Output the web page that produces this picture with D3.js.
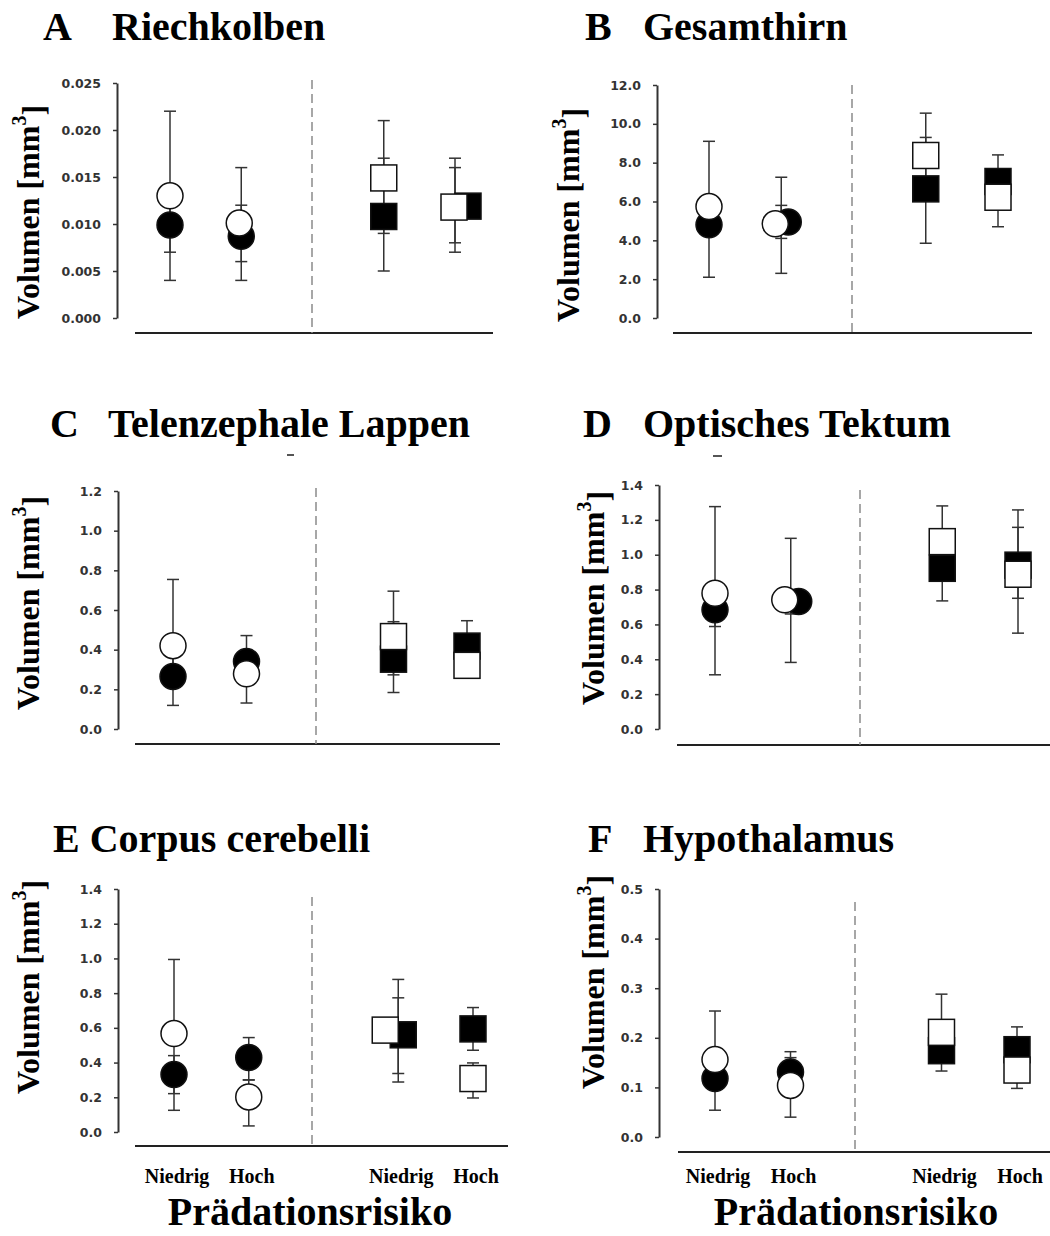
<!DOCTYPE html>
<html>
<head>
<meta charset="utf-8">
<script src="https://cdn.jsdelivr.net/npm/d3@7"></script>
<style>
  body { margin: 0; background: #fff; }
  svg text { font-family: "Liberation Serif", "Times New Roman", serif; font-weight: bold; }
  .tick text { font-family: "DejaVu Sans", Verdana, sans-serif; font-weight: bold; }
</style>
</head>
<body>
<div id="chart"></div>
<script>
//### DATA ####
const panelLetters = ["A", "B", "C", "D", "E", "F"];
const panelTitles = ["Riechkolben", "Gesamthirn", "Telenzephale Lappen", "Optisches Tektum", "Corpus cerebelli", "Hypothalamus"];
const groupLabels = ["Niedrig", "Hoch", "Niedrig", "Hoch"];
const axisTitle = "Prädationsrisiko";

// y axis per panel
const yMax = [0.025, 12, 1.2, 1.4, 1.4, 0.5];
const yStep = [0.005, 2, 0.2, 0.2, 0.2, 0.1];
const yDecimals = [3, 1, 1, 1, 1, 1];

// groups: [Niedrig circle, Hoch circle, Niedrig square, Hoch square]
const openMean = [
  [0.013, 0.0101, 0.0149, 0.0118],
  [5.74, 4.85, 8.37, 6.22],
  [0.42, 0.278, 0.466, 0.321],
  [0.779, 0.741, 1.075, 0.888],
  [0.567, 0.202, 0.587, 0.308],
  [0.156, 0.104, 0.211, 0.135]
];
const openLow = [
  [0.004, 0.004, 0.009, 0.007],
  [2.1, 2.3, 6.2, 4.7],
  [0.30, 0.131, 0.273, 0.256],
  [0.311, 0.382, 0.95, 0.75],
  [0.125, 0.035, 0.337, 0.196],
  [0.10, 0.040, 0.17, 0.098]
];
const openHigh = [
  [0.022, 0.016, 0.021, 0.017],
  [9.1, 7.25, 10.55, 7.5],
  [0.754, 0.40, 0.695, 0.39],
  [1.276, 1.094, 1.28, 1.157],
  [0.994, 0.30, 0.773, 0.398],
  [0.254, 0.16, 0.288, 0.17]
];
const filledMean = [
  [0.0099, 0.0087, 0.0108, 0.0119],
  [4.8, 4.94, 6.65, 7.03],
  [0.265, 0.34, 0.352, 0.418],
  [0.684, 0.731, 0.922, 0.94],
  [0.331, 0.429, 0.56, 0.594],
  [0.118, 0.131, 0.174, 0.176]
];
const filledLow = [
  [0.007, 0.006, 0.005, 0.008],
  [4.3, 4.1, 3.85, 5.8],
  [0.119, 0.25, 0.184, 0.36],
  [0.588, 0.66, 0.735, 0.55],
  [0.221, 0.30, 0.288, 0.471],
  [0.054, 0.10, 0.133, 0.15]
];
const filledHigh = [
  [0.013, 0.012, 0.017, 0.016],
  [5.3, 5.8, 9.3, 8.4],
  [0.41, 0.471, 0.541, 0.546],
  [0.78, 0.80, 1.1, 1.257],
  [0.44, 0.544, 0.879, 0.717],
  [0.16, 0.172, 0.21, 0.222]
];

//### LAYOUT ####
// slots: two circle groups, the divider, two square groups
const slots = ["n1", "h1", "mid", "n2", "h2"];
const groupSlot = ["n1", "h1", "n2", "h2"];

const layout = [
  { axisX: 117, yTop: 83, yBot: 318, baseY: 333, base0: 135, base1: 493, dashX: 312, dashTop: 80, x0: 170, x4: 455,
    letterX: 43, titleX: 112, titleY: 40, labelX: 28, labelY: 212,
    nudgeOpen: [0, -2, 0, -1], nudgeFilled: [0, 0, 0, 13] },
  { axisX: 657, yTop: 85, yBot: 318, baseY: 333, base0: 673, base1: 1032, dashX: 852, dashTop: 85, x0: 709, x4: 998,
    letterX: 585, titleX: 643, titleY: 40, labelX: 568, labelY: 215,
    nudgeOpen: [0, -6, 0, 0], nudgeFilled: [0, 7, 0, 0] },
  { axisX: 118, yTop: 491, yBot: 729, baseY: 744, base0: 135, base1: 500, dashX: 316, dashTop: 488, x0: 173, x4: 467,
    letterX: 50, titleX: 108, titleY: 437, labelX: 28, labelY: 603,
    nudgeOpen: [0, 0, 0, 0], nudgeFilled: [0, 0, 0, 0], stray: [287, 455, 7] },
  { axisX: 659, yTop: 485, yBot: 729, baseY: 745, base0: 677, base1: 1050, dashX: 860, dashTop: 490, x0: 715, x4: 1018,
    letterX: 583, titleX: 643, titleY: 437, labelX: 593, labelY: 598,
    nudgeOpen: [0, -6, 0, 0], nudgeFilled: [0, 8, 0, 0], stray: [713, 456, 9] },
  { axisX: 118, yTop: 889, yBot: 1132, baseY: 1146, base0: 135, base1: 508, dashX: 312, dashTop: 897, x0: 174, x4: 473,
    letterX: 53, titleX: 53, titleY: 852, labelX: 28, labelY: 987, joined: true,
    nudgeOpen: [0, 0, -13, 0], nudgeFilled: [0, 0, 5, 0], xLabels: true, xTitleX: 310 },
  { axisX: 659, yTop: 889, yBot: 1137, baseY: 1152, base0: 678, base1: 1050, dashX: 855, dashTop: 902, x0: 715, x4: 1017,
    letterX: 588, titleX: 643, titleY: 852, labelX: 593, labelY: 982,
    nudgeOpen: [0, 0, 0, 0], nudgeFilled: [0, 0, 0, 0], xLabels: true, xTitleX: 856 }
];

const width = 1050;
const height = 1236;
const radius = 13;
const boxSize = 26;
const capHalf = 6;

var svg = d3.select("#chart")
  .append("svg")
  .attr("width", width)
  .attr("height", height);

panelLetters.forEach(function (letter, p) {
  const L = layout[p];
  const g = svg.append("g");

  const y = d3.scaleLinear().domain([0, yMax[p]]).range([L.yBot, L.yTop]);
  const x = d3.scalePoint().domain(slots).range([L.x0, L.x4]);

  // title
  if (L.joined) {
    g.append("text").attr("x", L.letterX).attr("y", L.titleY)
      .style("font-size", "40px").text(letter + " " + panelTitles[p]);
  } else {
    g.append("text").attr("x", L.letterX).attr("y", L.titleY)
      .style("font-size", "40px").text(letter);
    g.append("text").attr("x", L.titleX).attr("y", L.titleY)
      .style("font-size", "40px").text(panelTitles[p]);
  }
  if (L.stray) {
    g.append("line")
      .attr("x1", L.stray[0]).attr("x2", L.stray[0] + L.stray[2])
      .attr("y1", L.stray[1]).attr("y2", L.stray[1])
      .attr("stroke", "#555").attr("stroke-width", 2);
  }

  // y axis
  const ticks = d3.range(0, yMax[p] + yStep[p] / 2, yStep[p]);
  const axis = g.append("g")
    .attr("transform", "translate(" + L.axisX + ",0)")
    .call(d3.axisLeft(y).tickValues(ticks).tickFormat(d3.format("." + yDecimals[p] + "f"))
      .tickSize(4).tickSizeOuter(0).tickPadding(12));
  axis.select(".domain").attr("stroke", "#333").attr("stroke-width", 2);
  axis.selectAll(".tick line").attr("stroke", "#333").attr("stroke-width", 1.5);
  axis.selectAll(".tick text").attr("fill", "#333").style("font-size", "12.5px");

  // y label
  const lab = g.append("text")
    .attr("transform", "translate(" + L.labelX + "," + L.labelY + ") rotate(-90)")
    .attr("text-anchor", "middle")
    .attr("dominant-baseline", "central")
    .style("font-size", "32px");
  lab.append("tspan").text("Volumen [mm");
  lab.append("tspan").attr("dy", "-0.45em").style("font-size", "20px").text("3");
  lab.append("tspan").attr("dy", "0.45em").text("]");

  // baseline and divider
  g.append("line")
    .attr("x1", L.base0).attr("x2", L.base1).attr("y1", L.baseY).attr("y2", L.baseY)
    .attr("stroke", "#222").attr("stroke-width", 2);
  g.append("line")
    .attr("x1", L.dashX).attr("x2", L.dashX).attr("y1", L.dashTop).attr("y2", L.baseY)
    .attr("stroke", "#8a8a8a").attr("stroke-width", 1.5).attr("stroke-dasharray", "9,5");

  // error bars (drawn behind the symbols)
  const bars = [];
  groupSlot.forEach(function (s, i) {
    bars.push({ x: x(s), lo: openLow[p][i], hi: openHigh[p][i] });
    bars.push({ x: x(s), lo: filledLow[p][i], hi: filledHigh[p][i] });
  });
  bars.forEach(function (b) {
    g.append("line")
      .attr("x1", b.x).attr("x2", b.x).attr("y1", y(b.lo)).attr("y2", y(b.hi))
      .attr("stroke", "#333").attr("stroke-width", 1.5);
    [b.lo, b.hi].forEach(function (v) {
      g.append("line")
        .attr("x1", b.x - capHalf).attr("x2", b.x + capHalf).attr("y1", y(v)).attr("y2", y(v))
        .attr("stroke", "#333").attr("stroke-width", 1.5);
    });
  });

  // symbols: filled first, open on top
  function drawSymbol(i, mean, nudge, fill) {
    const cx = x(groupSlot[i]) + nudge;
    const cy = y(mean);
    if (i < 2) {
      g.append("circle")
        .attr("cx", cx).attr("cy", cy).attr("r", radius)
        .attr("fill", fill).attr("stroke", "#111").attr("stroke-width", 1.5);
    } else {
      g.append("rect")
        .attr("x", cx - boxSize / 2).attr("y", cy - boxSize / 2)
        .attr("width", boxSize).attr("height", boxSize)
        .attr("fill", fill).attr("stroke", "#111").attr("stroke-width", 1.5);
    }
  }
  groupSlot.forEach(function (s, i) {
    drawSymbol(i, filledMean[p][i], L.nudgeFilled[i], "#000");
  });
  groupSlot.forEach(function (s, i) {
    drawSymbol(i, openMean[p][i], L.nudgeOpen[i], "#fff");
  });

  // category labels on bottom row
  if (L.xLabels) {
    groupSlot.forEach(function (s, i) {
      g.append("text")
        .attr("x", x(s) + 3).attr("y", 1183)
        .attr("text-anchor", "middle")
        .style("font-size", "20px")
        .text(groupLabels[i]);
    });
    g.append("text")
      .attr("x", L.xTitleX).attr("y", 1225)
      .attr("text-anchor", "middle")
      .style("font-size", "40px")
      .text(axisTitle);
  }
});
</script>
</body>
</html>
